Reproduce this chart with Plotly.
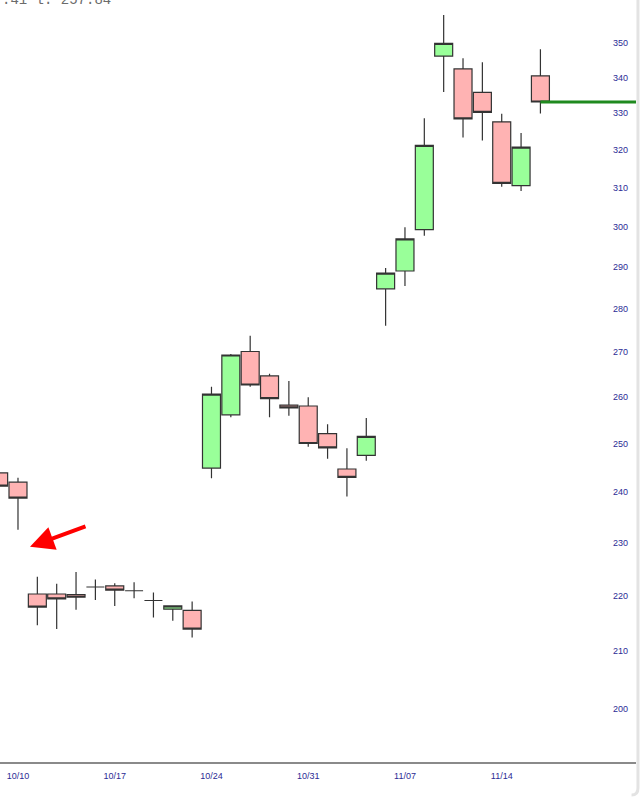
import math
import plotly.graph_objects as go

# Trading days shown (first one partly cut off at the left edge)
dates = ["10/07", "10/10", "10/11", "10/12", "10/13", "10/14",
         "10/17", "10/18", "10/19", "10/20", "10/21",
         "10/24", "10/25", "10/26", "10/27", "10/28",
         "10/31", "11/01", "11/02", "11/03", "11/04",
         "11/07", "11/08", "11/09", "11/10", "11/11",
         "11/14", "11/15", "11/16"]

open_ = [243.9, 242.0, 220.3, 220.3, 220.2, 221.6,
         221.8, 220.9, 219.1, 217.5, 217.3,
         244.9, 256.1, 270.1, 264.6, 258.2,
         258.0, 252.1, 244.7, 247.5, 284.7,
         289.0, 299.2, 346.2, 342.5, 335.8,
         327.6, 310.5, 340.5]
high = [245.0, 242.9, 223.5, 222.2, 224.4, 223.0,
        222.3, 222.5, 220.6, 218.2, 218.9,
        262.2, 269.5, 273.7, 265.1, 263.5,
        259.9, 254.1, 249.0, 255.4, 289.7,
        299.8, 328.6, 358.4, 345.6, 344.4,
        329.8, 324.5, 348.2]
low = [240.5, 232.5, 214.6, 213.9, 217.4, 219.2,
       218.1, 219.5, 216.0, 215.4, 212.4,
       242.8, 255.6, 262.2, 255.6, 255.9,
       249.3, 246.8, 239.1, 246.4, 276.0,
       285.4, 297.7, 335.9, 323.3, 322.5,
       310.2, 309.1, 329.9]
close = [241.2, 238.8, 217.9, 219.4, 219.7, 221.6,
         221.0, 220.9, 219.1, 218.1, 213.9,
         260.6, 269.3, 262.6, 259.6, 257.6,
         250.0, 249.1, 243.0, 251.5, 288.5,
         296.9, 321.2, 349.9, 328.4, 330.2,
         311.1, 320.7, 333.1]

tick_dates = ["10/10", "10/17", "10/24", "10/31", "11/07", "11/14"]
y_ticks = [200, 210, 220, 230, 240, 250, 260, 270, 280, 290,
           300, 310, 320, 330, 340, 350]

# gap annotation: arrow head location (day position, price)
arrow_pos = 1.62
arrow_price = 229.2

x = list(range(len(dates)))
tickvals = [dates.index(d) for d in tick_dates]
last_x = x[-1]
last_close = close[-1]

fig = go.Figure()
fig.add_trace(go.Candlestick(
    x=x, open=open_, high=high, low=low, close=close,
    increasing=dict(fillcolor="#99ff99", line=dict(color="#333333", width=1.2)),
    decreasing=dict(fillcolor="#ffb3b3", line=dict(color="#333333", width=1.2)),
    whiskerwidth=0,
    showlegend=False,
    hoverinfo="skip",
))

# last-close level line
fig.add_trace(go.Scatter(
    x=[last_x, last_x + 12], y=[last_close, last_close],
    mode="lines", line=dict(color="#1f8a1f", width=3),
    showlegend=False, hoverinfo="skip",
))

fig.add_annotation(
    x=arrow_pos, y=math.log10(arrow_price), xref="x", yref="y",
    ax=57, ay=-21, text="", showarrow=True,
    arrowhead=2, arrowsize=1.2, arrowwidth=4, arrowcolor="#ff0000",
)

fig.add_annotation(
    x=0, y=0.98688, xref="paper", yref="paper",
    xanchor="left", yanchor="bottom", text=".41 l: 257.84",
    showarrow=False, font=dict(family="Liberation Mono", size=14, color="#6b6b6b"),
)

# right frame edge with rounded bottom corner
fig.add_shape(
    type="path", xref="paper", yref="paper",
    path="M 1.0031,1.0 L 1.0031,-0.034 Q 1.0031,-0.0434 0.993,-0.0434",
    line=dict(color="#e3e3e3", width=3),
)

fig.update_layout(
    width=640, height=797,
    margin=dict(l=0, r=4, t=0, b=35),
    paper_bgcolor="white", plot_bgcolor="white",
    boxgap=0.07, boxgroupgap=0,
    xaxis=dict(
        range=[0.07, 32.94],
        tickvals=tickvals, ticktext=tick_dates,
        showgrid=False, zeroline=False,
        showline=True, linecolor="#8a8a8a", linewidth=2,
        ticks="", ticklabelstandoff=4,
        tickfont=dict(family="Liberation Sans", size=9, color="#2b2b95"),
        rangeslider=dict(visible=False),
        fixedrange=True,
    ),
    yaxis=dict(
        type="log",
        range=[2.2817, 2.5598],
        side="right", ticklabelposition="inside",
        tickvals=y_ticks, ticktext=[str(v) for v in y_ticks],
        showgrid=False, zeroline=False, showline=False,
        ticks="", ticklabelstandoff=5,
        tickfont=dict(family="Liberation Sans", size=9, color="#2b2b95"),
        fixedrange=True,
    ),
)

fig.write_html("out.html", config={"displayModeBar": False},
               post_script="document.body.style.margin='0';")
